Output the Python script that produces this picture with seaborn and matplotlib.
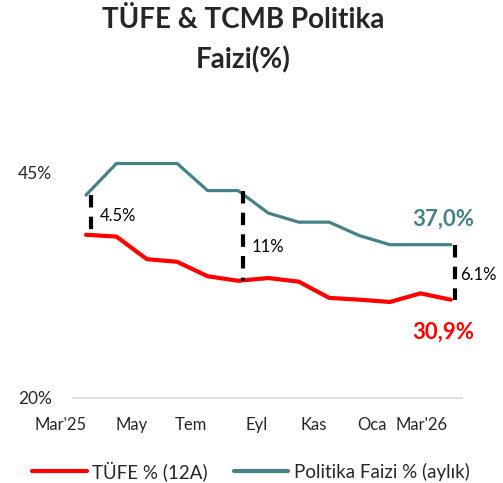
import matplotlib
matplotlib.use("Agg")
import matplotlib.pyplot as plt
import seaborn as sns
import pandas as pd
import numpy as np
from matplotlib.lines import Line2D

months = ["Mar'25", "Nis", "May", "Haz", "Tem", "Ağu", "Eyl", "Eki", "Kas", "Ara", "Oca", "Şub", "Mar'26"]
tufe = [38.1, 37.9, 35.4, 35.1, 33.5, 33.0, 33.3, 32.9, 31.1, 30.9, 30.65, 31.6, 30.9]
faiz = [42.5, 46.0, 46.0, 46.0, 43.0, 43.0, 40.5, 39.5, 39.5, 38.0, 37.0, 37.0, 37.0]
tick_labels = ["Mar'25", "May", "Tem", "Eyl", "Kas", "Oca", "Mar'26"]
tick_pos = [-0.85, 1.5, 3.45, 5.6, 7.5, 9.4, 11.05]
spread_idx = [0, 5, 12]
spread_labels = ["4.5%", "11%", "6.1%"]
y_ticks = [20, 45]

sns.set_theme(style="white")
plt.rcParams['font.family'] = ['Lato', 'DejaVu Sans']

red = "#FF0000"
teal = "#468185"

df = pd.DataFrame({
    "i": list(range(len(months))) * 2,
    "val": tufe + faiz,
    "seri": ["TÜFE % (12A)"] * len(months) + ["Politika Faizi % (aylık)"] * len(months),
})

# 30.4 px per month, month 0 at x=86 px
px_per = 30.4
x0_px = 86
xl, xr = -1.5, 12.4
left_px = x0_px + xl * px_per
right_px = x0_px + xr * px_per

fig = plt.figure(figsize=(5.03, 4.83), dpi=100)
ax = fig.add_axes([left_px/503, 1 - 398/483, (right_px-left_px)/503, (398-150)/483])

sns.lineplot(data=df, x="i", y="val", hue="seri",
             palette={"TÜFE % (12A)": red, "Politika Faizi % (aylık)": teal},
             ax=ax, legend=False)
lines = ax.get_lines()
lines[0].set_linewidth(3.0)
lines[1].set_linewidth(2.3)

# spread dashed lines
for idx in spread_idx:
    ax.plot([idx + 0.15, idx + 0.15], [faiz[idx], tufe[idx]], color="black", lw=3.0,
            dashes=(3.0, 2.2), zorder=5)

ax.text(0.45, 40.2, spread_labels[0], fontsize=12, ha="left", va="center", color="black")
ax.text(5.45, 36.7, spread_labels[1], fontsize=12, ha="left", va="center", color="black")
ax.text(12.3, 33.6, spread_labels[2], fontsize=12, ha="left", va="center", color="black")

ax.text(11.75, faiz[-1] + 2.8, f"{faiz[-1]:.1f}%".replace(".", ","), fontsize=16,
        fontweight="bold", color=teal, ha="center", va="center")
ax.text(11.75, tufe[-1] - 3.6, f"{tufe[-1]:.1f}%".replace(".", ","), fontsize=16,
        fontweight="bold", color=red, ha="center", va="center")

ax.set_xticks(tick_pos)
ax.set_xticklabels(tick_labels, fontsize=12)
ax.set_yticks(y_ticks)
ax.set_yticklabels([f"{v}%" for v in y_ticks], fontsize=12.5)
ax.set_xlim(xl, xr)
ax.set_ylim(20, 47.5)
ax.tick_params(axis="y", pad=(left_px - 52) / 1.389, length=0)
ax.tick_params(axis="x", pad=14, length=0)
ax.set_xlabel("")
ax.set_ylabel("")
for s in ax.spines.values():
    s.set_visible(False)
ax.hlines(20, (72 - x0_px) / px_per, xr, color="#D9D9D9", lw=1.2, zorder=0, clip_on=False)

fig.text(243/503, 1 - 20/483, "TÜFE & TCMB Politika", fontsize=20, fontweight="bold",
         ha="center", va="center")
fig.text(243/503, 1 - 60/483, "Faizi(%)", fontsize=20, fontweight="bold",
         ha="center", va="center")

handles = [Line2D([], [], color=red, lw=3.0), Line2D([], [], color=teal, lw=3.0)]
fig.legend(handles, ["TÜFE % (12A)", "Politika Faizi % (aylık)"], loc="center",
           bbox_to_anchor=(251/503, 1 - 471/483), ncol=2, frameon=False, fontsize=13.5,
           handlelength=2.9, handletextpad=0.3, columnspacing=1.4)

fig.savefig("out.png", dpi=100)
